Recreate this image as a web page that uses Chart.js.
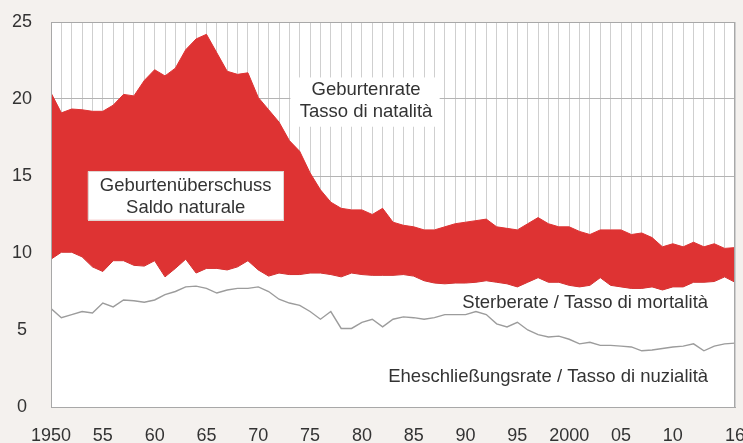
<!DOCTYPE html>
<html>
<head>
<meta charset="utf-8">
<script src="https://cdn.jsdelivr.net/npm/chart.js@4.4.1/dist/chart.umd.min.js"></script>
<style>
  html, body { margin: 0; padding: 0; background: #f4f1ee; }
  #wrap { width: 743px; height: 443px; }
</style>
</head>
<body>
<div id="wrap"><canvas id="c" width="743" height="443"></canvas></div>
<script>
const years = [];
for (let y = 1950; y <= 2016; y++) years.push(y);

const birthRate = [
  20.4, 19.1, 19.35, 19.3, 19.2, 19.2, 19.6, 20.3, 20.2, 21.2,
  21.9, 21.5, 22.0, 23.2, 23.9, 24.2, 23.0, 21.8, 21.6, 21.7,
  20.1, 19.3, 18.5, 17.3, 16.6, 15.2, 14.1, 13.3, 12.9, 12.8,
  12.8, 12.5, 12.9, 12.0, 11.8, 11.7, 11.5, 11.5, 11.7, 11.9,
  12.0, 12.1, 12.2, 11.7, 11.6, 11.5, 11.9, 12.3, 11.9, 11.7,
  11.7, 11.4, 11.2, 11.5, 11.5, 11.5, 11.2, 11.3, 11.0, 10.4,
  10.6, 10.4, 10.7, 10.4, 10.6, 10.3, 10.35
];
const deathRate = [
  9.6, 10.05, 10.05, 9.75, 9.1, 8.8, 9.5, 9.5, 9.2, 9.15,
  9.5, 8.45, 9.0, 9.6, 8.7, 9.0, 9.0, 8.9, 9.1, 9.5,
  8.9, 8.5, 8.7, 8.6, 8.6, 8.7, 8.7, 8.6, 8.45, 8.7,
  8.6, 8.55, 8.55, 8.55, 8.6, 8.5, 8.2, 8.05, 8.0, 8.05,
  8.05, 8.1, 8.2, 8.1, 8.0, 7.8, 8.1, 8.4, 8.1, 8.1,
  7.9, 7.8, 7.9, 8.4, 7.9, 7.8, 7.7, 7.7, 7.8, 7.6,
  7.8, 7.8, 8.1, 8.1, 8.15, 8.45, 8.1
];
const marriageRate = [
  6.4, 5.8, 6.0, 6.2, 6.1, 6.75, 6.5, 6.95, 6.9, 6.8,
  6.95, 7.3, 7.5, 7.8, 7.85, 7.7, 7.4, 7.6, 7.7, 7.7,
  7.8, 7.5, 7.0, 6.75, 6.6, 6.2, 5.7, 6.2, 5.1, 5.1,
  5.5, 5.7, 5.2, 5.7, 5.85, 5.8, 5.7, 5.8, 6.0, 6.0,
  6.0, 6.2, 6.0, 5.4, 5.2, 5.5, 5.0, 4.7, 4.55, 4.6,
  4.4, 4.1, 4.2, 4.0, 4.0, 3.95, 3.9, 3.65, 3.7, 3.8,
  3.9, 3.95, 4.1, 3.65, 3.95, 4.1, 4.15
];
const xTickLabels = {1950:'1950',1955:'55',1960:'60',1965:'65',1970:'70',1975:'75',1980:'80',
  1985:'85',1990:'90',1995:'95',2000:'2000',2005:'05',2010:'10',2016:'16'};
const yTicks = [0, 5, 10, 15, 20, 25];

const notes = [
  {lines: ['Geburtenrate', 'Tasso di natalità'], x: 1980.4, y: [20.6, 19.15], align: 'center',
   box: [1973.1, 21.4, 1987.5, 18.2], border: false},
  {lines: ['Geburtenüberschuss', 'Saldo naturale'], x: 1963.0, y: [14.35, 12.95], align: 'center',
   box: [1953.55, 15.3, 1972.4, 12.15], border: true},
  {lines: ['Sterberate / Tasso di mortalità'], x: 2013.4, y: [6.75], align: 'right'},
  {lines: ['Eheschließungsrate / Tasso di nuzialità'], x: 2013.4, y: [1.95], align: 'right'}
];

const FONT = '"Liberation Sans", Arial, sans-serif';
const RED = '#de3333';

const toXY = arr => years.map((yr, i) => ({x: yr, y: arr[i]}));

const bgPlugin = {
  id: 'bg',
  beforeDraw(chart) {
    const {ctx, chartArea: a} = chart;
    ctx.save();
    ctx.fillStyle = '#f4f1ee';
    ctx.fillRect(0, 0, chart.width, chart.height);
    ctx.fillStyle = '#ffffff';
    ctx.fillRect(a.left, a.top, a.right - a.left, a.bottom - a.top);
    ctx.restore();
  },
  afterDatasetsDraw(chart) {
    const {ctx, chartArea: a, scales: {x, y}} = chart;
    ctx.save();
    ctx.font = '18.5px ' + FONT;
    ctx.textBaseline = 'middle';
    for (const n of notes) {
      if (n.box) {
        const x0 = x.getPixelForValue(n.box[0]), y0 = y.getPixelForValue(n.box[1]);
        const x1 = x.getPixelForValue(n.box[2]), y1 = y.getPixelForValue(n.box[3]);
        ctx.fillStyle = '#ffffff';
        ctx.fillRect(x0, y0, x1 - x0, y1 - y0);
        if (n.border) {
          ctx.strokeStyle = '#e0d6d2';
          ctx.lineWidth = 1;
          ctx.strokeRect(Math.round(x0) + 0.5, Math.round(y0) + 0.5, Math.round(x1 - x0), Math.round(y1 - y0));
        }
      }
      ctx.fillStyle = '#333333';
      ctx.textAlign = n.align;
      n.lines.forEach((t, i) => {
        ctx.fillText(t, x.getPixelForValue(n.x), y.getPixelForValue(n.y[i]));
      });
    }
    // plot frame
    ctx.strokeStyle = '#a8a8a8';
    ctx.lineWidth = 1;
    ctx.strokeRect(Math.round(a.left) + 0.5, Math.round(a.top) + 0.5,
      Math.round(a.right - a.left) - 1, Math.round(a.bottom - a.top));
    ctx.restore();
  }
};

new Chart(document.getElementById('c'), {
  type: 'line',
  data: {
    datasets: [
      {label: 'Geburtenrate', data: toXY(birthRate), borderColor: RED, backgroundColor: RED,
       borderWidth: 1, pointRadius: 0, fill: '+1', order: 1, tension: 0},
      {label: 'Sterberate', data: toXY(deathRate), borderColor: '#c92c2c', backgroundColor: '#ffffff',
       borderWidth: 1, pointRadius: 0, fill: 'origin', order: 2, tension: 0},
      {label: 'Eheschließungsrate', data: toXY(marriageRate), borderColor: '#9c9c9c',
       borderWidth: 1.4, pointRadius: 0, fill: false, order: 0, tension: 0}
    ]
  },
  options: {
    responsive: false,
    animation: false,
    events: [],
    layout: {padding: {top: 22, right: 8, left: 0, bottom: 0}},
    plugins: {legend: {display: false}, tooltip: {enabled: false}},
    scales: {
      x: {
        type: 'linear', min: 1950, max: 2016,
        afterBuildTicks(scale) { scale.ticks = years.map(v => ({value: v})); },
        afterFit(scale) { scale.height = 36; scale.paddingLeft = 0; scale.paddingRight = 0; },
        grid: {color: '#cfcfcf', lineWidth: 1, drawTicks: false},
        border: {display: true, color: '#a8a8a8'},
        ticks: {
          autoSkip: false, maxRotation: 0, minRotation: 0, padding: 18,
          color: '#333333', font: {family: FONT, size: 18},
          callback: v => xTickLabels[v] || ''
        }
      },
      y: {
        min: 0, max: 25,
        afterBuildTicks(scale) { scale.ticks = yTicks.map(v => ({value: v})); },
        afterFit(scale) { scale.width = 51; scale.paddingTop = 0; scale.paddingBottom = 0; },
        grid: {color: '#b4b4b4', lineWidth: 1, drawTicks: false},
        border: {display: true, color: '#a8a8a8'},
        ticks: {
          padding: 19, crossAlign: 'center',
          color: '#333333', font: {family: FONT, size: 18}
        }
      }
    }
  },
  plugins: [bgPlugin]
});
</script>
</body>
</html>
